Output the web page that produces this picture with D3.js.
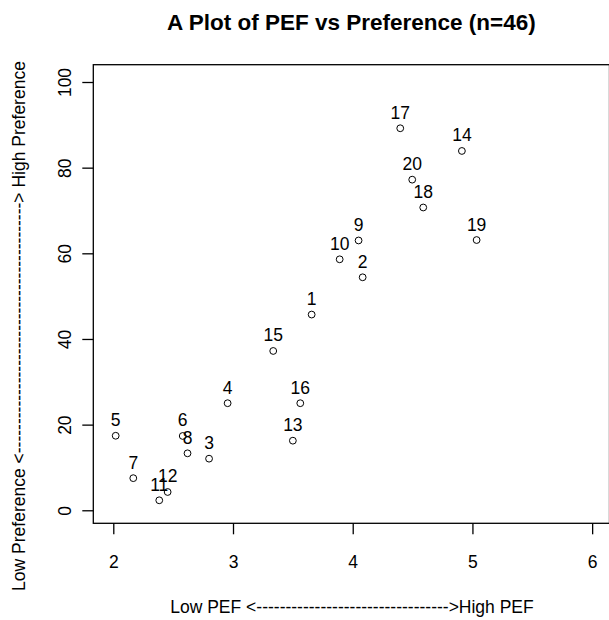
<!DOCTYPE html>
<html>
<head>
<meta charset="utf-8">
<script src="https://cdn.jsdelivr.net/npm/d3@7"></script>
<style>
  body { margin: 0; background: #fff; }
  svg text { font-family: "Liberation Sans", Arial, sans-serif; fill: #000; }
</style>
</head>
<body>
<div id="chart"></div>
<script>
// Data
const ids = ["1", "2", "3", "4", "5", "6", "7", "8", "9", "10",
             "11", "12", "13", "14", "15", "16", "17", "18", "19", "20"];
const pef = [3.657, 4.083, 2.80, 2.955, 2.02, 2.58, 2.167, 2.62, 4.049, 3.891,
             2.384, 2.454, 3.50, 4.912, 3.336, 3.562, 4.397, 4.589, 5.035, 4.497];
const preference = [45.7, 54.4, 12.05, 25.0, 17.4, 17.35, 7.5, 13.3, 63.0, 58.6,
                    2.33, 4.27, 16.25, 83.9, 37.2, 25.0, 89.2, 70.7, 63.1, 77.2];
const xTicks = [2, 3, 4, 5, 6];
const yTicks = [0, 20, 40, 60, 80, 100];

const points = ids.map((id, i) => ({ id, x: pef[i], y: preference[i] }));

const width = 609, height = 620;
const fontSize = 17.5;

const svg = d3.select("#chart").append("svg")
    .attr("width", width)
    .attr("height", height);

// Scales (R style padded limits)
const x = d3.scaleLinear().domain([1.833, 6.145]).range([93.3, 609.5]);
const y = d3.scaleLinear().domain([-3.04, 104.04]).range([523.3, 64.7]);

// Plot frame
svg.append("rect")
    .attr("x", x.range()[0])
    .attr("y", y.range()[1])
    .attr("width", x.range()[1] - x.range()[0])
    .attr("height", y.range()[0] - y.range()[1])
    .attr("fill", "none")
    .attr("stroke", "#000")
    .attr("stroke-width", 1.3);

// X axis
const xAxisGroup = svg.append("g")
    .attr("transform", `translate(0,${y.range()[0]})`)
    .call(d3.axisBottom(x).tickValues(xTicks).tickFormat(d3.format("d")).tickSize(11).tickSizeOuter(0));
xAxisGroup.select(".domain").remove();
xAxisGroup.selectAll(".tick line").attr("stroke", "#000").attr("stroke-width", 1.3);
xAxisGroup.selectAll(".tick text")
    .attr("font-size", fontSize)
    .attr("font-family", "Liberation Sans, Arial, sans-serif")
    .attr("y", 0)
    .attr("dy", 0)
    .attr("transform", `translate(0,${568.3 - y.range()[0]})`);

// Y axis
const yAxisGroup = svg.append("g")
    .attr("transform", `translate(${x.range()[0]},0)`)
    .call(d3.axisLeft(y).tickValues(yTicks).tickFormat(d3.format("d")).tickSize(11).tickSizeOuter(0));
yAxisGroup.select(".domain").remove();
yAxisGroup.selectAll(".tick line").attr("stroke", "#000").attr("stroke-width", 1.3);
yAxisGroup.selectAll(".tick text")
    .attr("font-size", fontSize)
    .attr("font-family", "Liberation Sans, Arial, sans-serif")
    .attr("x", 0)
    .attr("dy", 0)
    .attr("text-anchor", "middle")
    .attr("transform", `translate(${71 - x.range()[0]},0) rotate(-90)`);

// Points
svg.selectAll(".pt")
    .data(points)
    .join("circle")
    .attr("class", "pt")
    .attr("cx", d => x(d.x))
    .attr("cy", d => y(d.y))
    .attr("r", 3.4)
    .attr("fill", "none")
    .attr("stroke", "#000")
    .attr("stroke-width", 1);

// Point labels above each point
svg.selectAll(".lbl")
    .data(points)
    .join("text")
    .attr("class", "lbl")
    .attr("x", d => x(d.x))
    .attr("y", d => y(d.y) - 9.5)
    .attr("text-anchor", "middle")
    .attr("font-size", fontSize)
    .text(d => d.id);

// Title
svg.append("text")
    .attr("x", 351.4)
    .attr("y", 29.5)
    .attr("text-anchor", "middle")
    .attr("font-size", 22.5)
    .attr("font-weight", "bold")
    .text("A Plot of PEF vs Preference (n=46)");

// Axis titles
svg.append("text")
    .attr("x", 352)
    .attr("y", 613)
    .attr("text-anchor", "middle")
    .attr("font-size", fontSize)
    .text("Low PEF <" + "-".repeat(33) + ">High PEF");

svg.append("text")
    .attr("transform", `translate(25,${(y.range()[0] + y.range()[1]) / 2 + 32}) rotate(-90)`)
    .attr("text-anchor", "middle")
    .attr("font-size", fontSize)
    .text("Low Preference <" + "-".repeat(43) + "> High Preference");
</script>
</body>
</html>
